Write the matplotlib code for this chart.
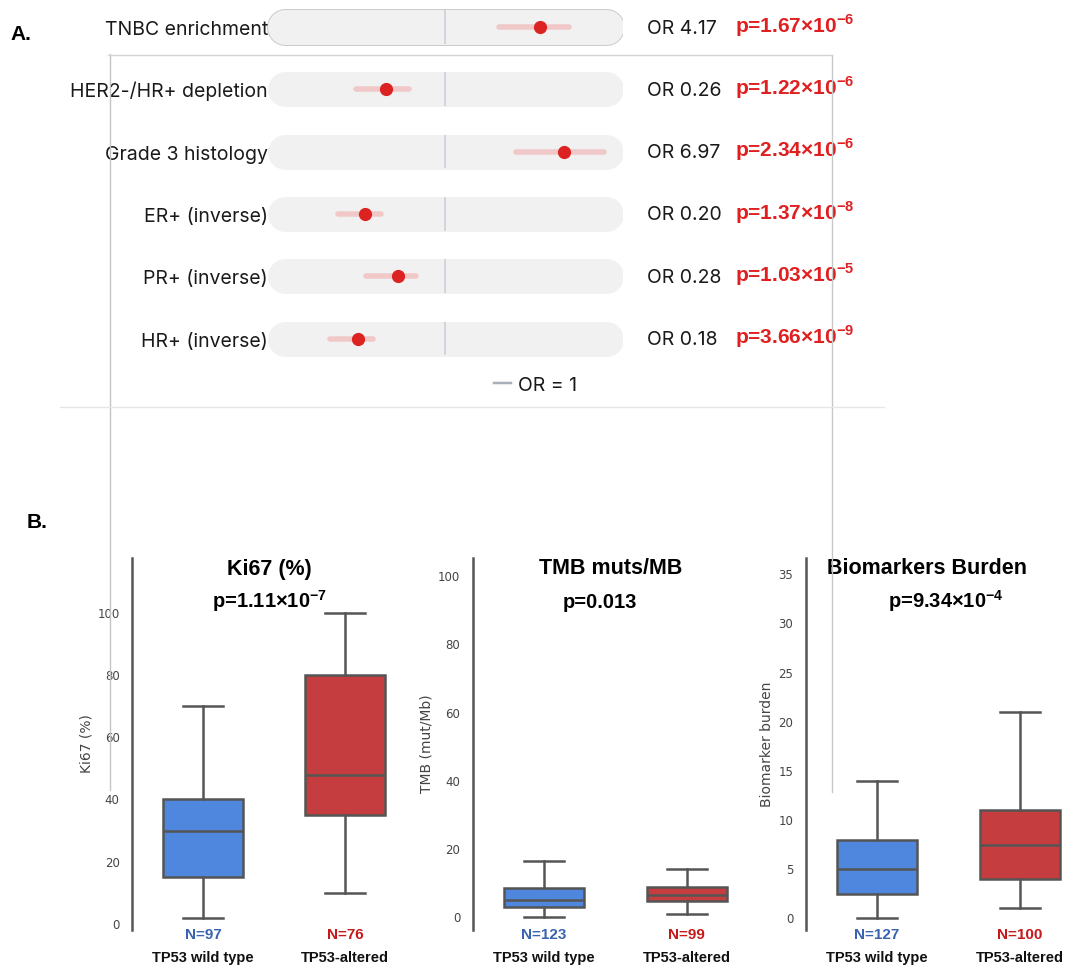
import matplotlib
matplotlib.use('Agg')
import matplotlib.pyplot as plt
from matplotlib.lines import Line2D

plt.rcParams['mathtext.fontset'] = 'custom'
plt.rcParams['mathtext.rm'] = 'Liberation Sans'
plt.rcParams['mathtext.bf'] = 'Liberation Sans:bold'

W, H = 1069, 975

a_labels = ['TNBC enrichment', 'HER2-/HR+ depletion', 'Grade 3 histology',
            'ER+ (inverse)', 'PR+ (inverse)', 'HR+ (inverse)']
a_or_text = ['4.17', '0.26', '6.97', '0.20', '0.28', '0.18']
a_p_mant = ['1.67', '1.22', '2.34', '1.37', '1.03', '3.66']
a_p_exp = ['-6', '-6', '-6', '-8', '-5', '-9']
a_dot = [3.41, 0.469, 4.68, 0.357, 0.541, 0.325]
a_ci_lo = [2.0, 0.318, 2.49, 0.252, 0.362, 0.227]
a_ci_hi = [4.98, 0.629, 7.87, 0.438, 0.683, 0.396]

# ---- Panel B: box stats (whislo, q1, med, q3, whishi)
groups = ['TP53 wild type', 'TP53-altered']
ki67_wt = [2, 15, 30, 40, 70]
ki67_alt = [10, 35, 48, 80, 100]
ki67_n = [97, 76]
tmb_wt = [0, 2.9, 5.0, 8.6, 16.4]
tmb_alt = [0.9, 4.7, 6.7, 8.8, 14.3]
tmb_n = [123, 99]
bio_wt = [0, 2.5, 5.0, 8.0, 14.0]
bio_alt = [1.0, 4.0, 7.5, 11.0, 21.0]
bio_n = [127, 100]
b_p = ['p=1.11×10$^{\\mathbf{-7}}$', 'p=0.013', 'p=9.34×10$^{\\mathbf{-4}}$']

RED = '#dd2222'
PX = 0.72  # points per pixel at dpi 100

fig = plt.figure(figsize=(W / 100, H / 100), dpi=100)
fig.patch.set_facecolor('white')

def fx(px):
    return px / W

def fy(px):
    return 1 - px / H

# ================= Panel A =================
ax = fig.add_axes([fx(267), fy(375), fx(356), 375 / H])
ax.set_xscale('log')
ax.set_xlim(0.1, 10)
ax.set_ylim((375 - 27) / 62.3, -27 / 62.3)
ax.axis('off')
tr = ax.get_yaxis_transform()
cap = 17.5 / 356

for i, lab in enumerate(a_labels):
    # pill background
    if i == 0:
        ax.plot([cap, 1 - cap], [i, i], transform=tr, lw=37 * PX, color='#cbcbcb',
                solid_capstyle='round', zorder=1)
    ax.plot([cap, 1 - cap], [i, i], transform=tr, lw=35 * PX, color='#f1f1f1',
            solid_capstyle='round', zorder=2)
    ax.vlines(1, i - 0.27, i + 0.27, color='#cfd3da', lw=1.3, zorder=3)
    # CI and estimate
    ax.plot([a_ci_lo[i], a_ci_hi[i]], [i, i], lw=5.5 * PX, color='#f0c8c8',
            solid_capstyle='round', zorder=4)
    ax.plot(a_dot[i], i, 'o', ms=9.5, color=RED, mew=0, zorder=5)

    ax.text(0.003, i + 8 / 62.3, lab, transform=tr, ha='right', va='baseline',
            fontsize=14, family='Inter', color='#1a1a1a')
    ax.text((647 - 267) / 356, i + 6.5 / 62.3, 'OR ' + a_or_text[i], transform=tr,
            ha='left', va='baseline', fontsize=14, family='Inter', color='#1a1a1a')
    ax.text((735 - 267) / 356, i + 5.5 / 62.3,
            'p=%s×10$^{\\mathbf{%s}}$' % (a_p_mant[i], a_p_exp[i]),
            transform=tr, ha='left', va='baseline', fontsize=15, weight='bold',
            family='Liberation Sans', color='#e02020')

# legend for the OR = 1 reference line
fig.add_artist(Line2D([fx(494), fx(511)], [fy(383), fy(383)], color='#a9afbd', lw=2.5 * PX))
fig.text(fx(518), fy(391), 'OR = 1', ha='left', va='baseline', fontsize=14,
         family='Inter', color='#1a1a1a')

# panel letters
fig.text(fx(10), fy(35), 'A.', ha='left', va='center', fontsize=15,
         weight='bold', family='Liberation Sans')
fig.text(fx(27), fy(522), 'B.', ha='left', va='center', fontsize=15,
         weight='bold', family='Liberation Sans')

# ================= Panel B =================
EDGE = '#555555'
box_colors = ['#5087de', '#c53d3f']
n_colors = ['#3a63b0', '#c41a1a']

def stats(v):
    return dict(whislo=v[0], q1=v[1], med=v[2], q3=v[3], whishi=v[4], fliers=[])

def box_panel(left_px, spacing, wt, alt, n, title, ptext, ylabel, yticks, ylim,
              title_x, p_x):
    axb = fig.add_axes([fx(left_px), fy(930), 1.8 * spacing / W, 372 / H])
    bp = axb.bxp([stats(wt), stats(alt)], positions=[0, 1], widths=0.56,
                 capwidths=0.28, patch_artist=True, showfliers=False,
                 boxprops=dict(edgecolor=EDGE, linewidth=1.8),
                 medianprops=dict(color=EDGE, linewidth=1.8),
                 whiskerprops=dict(color=EDGE, linewidth=1.8),
                 capprops=dict(color=EDGE, linewidth=1.8))
    for patch, c in zip(bp['boxes'], box_colors):
        patch.set_facecolor(c)
    axb.set_xlim(-0.5, 1.3)
    axb.set_ylim(*ylim)
    axb.set_yticks(yticks)
    axb.set_xticks([])
    for s in ['top', 'right', 'bottom']:
        axb.spines[s].set_visible(False)
    axb.spines['left'].set_color(EDGE)
    axb.spines['left'].set_linewidth(1.8)
    axb.tick_params(axis='y', length=0, pad=9, labelsize=8.5, labelcolor='#444444')
    axb.set_ylabel(ylabel, fontsize=10, color='#444444', labelpad=3)
    axb.patch.set_alpha(0)

    axb.text(title_x, 1 - 11 / 372, title, transform=axb.get_xaxis_transform(),
             ha='center', va='center', fontsize=15.5, weight='bold',
             family='Liberation Sans')
    axb.text(p_x, 1 - 50 / 372, ptext, transform=axb.get_xaxis_transform(),
             ha='center', va='baseline', fontsize=14.5, weight='bold',
             family='Liberation Sans')
    for i in range(2):
        axb.annotate('N=%d' % n[i], xy=(i, 0), xycoords=('data', 'axes fraction'),
                     xytext=(0, -5 * PX), textcoords='offset points', ha='center',
                     va='center', fontsize=11, weight='bold',
                     family='Liberation Sans', color=n_colors[i])
        axb.annotate(groups[i], xy=(i, 0), xycoords=('data', 'axes fraction'),
                     xytext=(0, -28 * PX), textcoords='offset points', ha='center',
                     va='center', fontsize=10.5, weight='bold',
                     family='Liberation Sans', color='#111111')
    return axb

box_panel(132, 142, ki67_wt, ki67_alt, ki67_n, 'Ki67 (%)', b_p[0], 'Ki67 (%)',
          range(0, 101, 20), (-2, 117.7), 0.47, 0.47)
box_panel(472.7, 142.7, tmb_wt, tmb_alt, tmb_n, 'TMB muts/MB', b_p[1], 'TMB (mut/Mb)',
          range(0, 101, 20), (-3.7, 105.3), 0.467, 0.39)
box_panel(805.7, 142.7, bio_wt, bio_alt, bio_n, 'Biomarkers Burden', b_p[2],
          'Biomarker burden', range(0, 36, 5), (-1.19, 36.66), 0.35, 0.48)

# leftover frame lines from the composite layout
for xs, ys, c in [([110, 110], [54, 790], '#c4c4c4'),
                  ([832, 832], [55, 792], '#c8c8c8'),
                  ([108, 832], [55, 55], '#d4d4d4'),
                  ([60, 884], [407, 407], '#e6e6e6')]:
    fig.add_artist(Line2D([fx(x) for x in xs], [fy(y) for y in ys], color=c, lw=1.0))

fig.savefig('out.png', dpi=100)
